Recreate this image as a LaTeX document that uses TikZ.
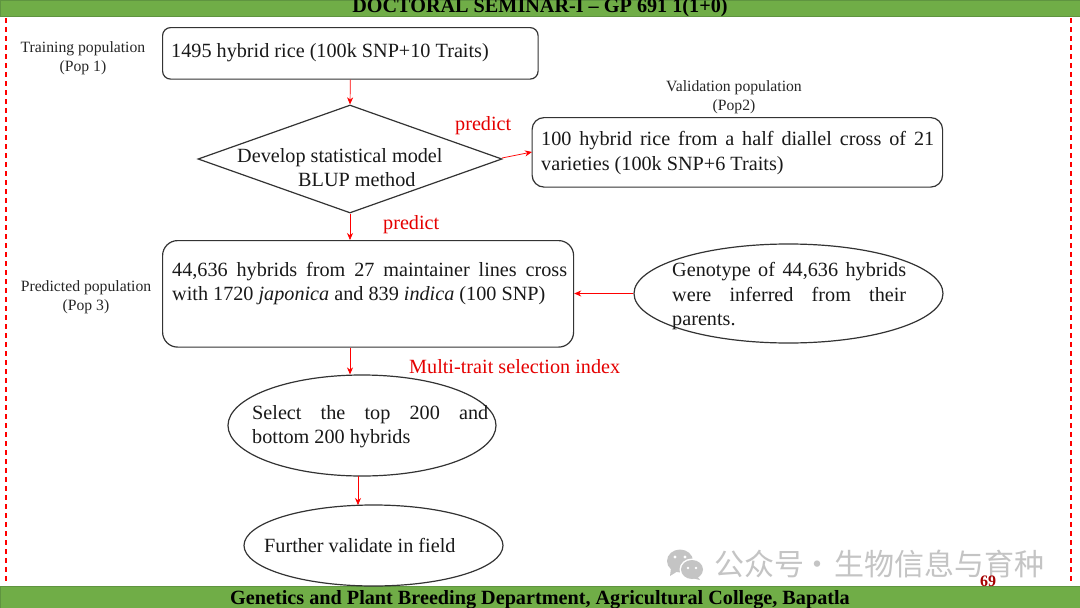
\documentclass[tikz,border=0pt]{standalone}
\usepackage{fontspec}
\setmainfont{Liberation Serif}
\newfontfamily\cjkwm{Noto Sans CJK SC}
\usetikzlibrary{shapes.geometric,arrows.meta}
\definecolor{bargreen}{HTML}{70AD47}
\definecolor{baredge}{HTML}{5F9440}
\definecolor{wmgrey}{HTML}{C4C4C4}
\definecolor{guidered}{HTML}{FF0000}
\tikzset{
 x=1pt,y=-1pt,
 rbox/.style={draw=black!80,line width=1.2pt,inner sep=0pt,anchor=north west},
 oval/.style={draw=black!80,line width=1.2pt,ellipse,inner sep=0pt},
 conn/.style={draw=red,line width=.7pt,-{Stealth[length=7pt,width=6pt]}},
 bar/.style={fill=bargreen,draw=baredge,line width=.6pt,inner sep=0pt,anchor=north west},
 dashbit/.style={fill=guidered,draw=none},
 body/.style={inner sep=0pt,anchor=base west,font=\fontsize{20.2}{24}\selectfont,text=black!90},
 side/.style={inner sep=0pt,align=center,font=\fontsize{15.7}{19}\selectfont,text=black!85},
 redlab/.style={inner sep=0pt,anchor=base west,font=\fontsize{20.2}{24}\selectfont,text=red!90!black},
 bartext/.style={inner sep=0pt,anchor=base,font=\bfseries\fontsize{20.2}{24}\selectfont,text=black},
 wmtext/.style={inner sep=0pt,anchor=base west,text=wmgrey,font=\cjkwm\fontsize{30}{32}\selectfont}
}
\newcommand{\jline}[2]{\makebox[#1][s]{#2}}
\begin{document}
\begin{tikzpicture}
\useasboundingbox (0,0) rectangle (1080,608);
\fill[white] (0,0) rectangle (1080,608);
% dashed side guides
\foreach \yy in {18,27,...,580}{
  \fill[dashbit] (5,\yy) rectangle (7,\yy+5);
  \fill[dashbit] (1070,\yy) rectangle (1072,\yy+5);
}
% bars
\node[bar,minimum width=1080pt,minimum height=16pt] (topbar) at (0,0) {};
\node[bar,minimum width=1080pt,minimum height=22pt] (botbar) at (0,586) {};
\begin{scope}
\clip (0,0) rectangle (1080,16);
\node[bartext] (toptext) at (540,12) {DOCTORAL SEMINAR-I – GP 691 1(1+0)};
\end{scope}
\node[bartext] (bottext) at (540,604.5) {Genetics and Plant Breeding Department, Agricultural College, Bapatla};
% shapes
\node[rbox,rounded corners=8pt,minimum width=375.5pt,minimum height=51.5pt] (box1) at (162,27) {};
\node[draw=black!80,line width=1.2pt,diamond,inner sep=0pt,minimum width=304pt,minimum height=108pt] (dia) at (350,159) {};
\node[rbox,rounded corners=12pt,minimum width=410.5pt,minimum height=69.5pt] (box2) at (531.5,117) {};
\node[rbox,rounded corners=15pt,minimum width=411pt,minimum height=106.5pt] (box3) at (162,240) {};
\node[oval,minimum width=309pt,minimum height=99pt] (geno) at (788.5,293.5) {};
\node[oval,minimum width=268pt,minimum height=101pt] (sel) at (362,425.5) {};
\node[oval,minimum width=259pt,minimum height=81pt] (fur) at (373.5,545.5) {};
% connector ends
\coordinate (selout) at (358,476);
\coordinate (furin) at (358,505);
\coordinate (diaout) at (502,158);
\coordinate (boxin) at (532,152);
% connectors
\draw[conn] (box1.south) -- (dia.north);
\draw[conn] (diaout) -- (boxin);
\draw[conn] (dia.south) -- (dia.south |- box3.north);
\draw[conn] (geno.west) -- (geno.west -| box3.east);
\draw[conn] (dia.south |- box3.south) -- (dia.south |- sel.north);
\draw[conn] (selout) -- (furin);
% text
\node[side] (lab1) at (83,58) {Training population\\(Pop 1)};
\node[side] (lab2) at (734,97.5) {Validation population\\(Pop2)};
\node[side] (lab3) at (86,297) {Predicted population\\(Pop 3)};
\node[body] (t1) at (171,57) {1495 hybrid rice (100k SNP+10 Traits)};
\node[body] (t2) at (237,162) {Develop statistical model};
\node[body] (t3) at (298,186) {BLUP method};
\node[body] (t4) at (541,145) {\jline{393pt}{100 hybrid rice from a half diallel cross of 21}};
\node[body] (t5) at (541,170) {varieties (100k SNP+6 Traits)};
\node[body] (t6) at (172,276) {\jline{395pt}{44,636 hybrids from 27 maintainer lines cross}};
\node[body] (t7) at (172,300) {with 1720 \textit{japonica} and 839 \textit{indica} (100 SNP)};
\node[body] (t8) at (672,276) {\jline{234pt}{Genotype of 44,636 hybrids}};
\node[body] (t9) at (672,301) {\jline{234pt}{were inferred from their}};
\node[body] (t10) at (672,325) {parents.};
\node[body] (t11) at (252,419) {\jline{236pt}{Select the top 200 and}};
\node[body] (t12) at (252,443) {bottom 200 hybrids};
\node[body] (t13) at (264,552) {Further validate in field};
\node[redlab] (p1) at (455,130) {predict};
\node[redlab] (p2) at (383,229) {predict};
\node[redlab] (p3) at (409,373) {Multi-trait selection index};
% watermark
\fill[wmgrey] (680,561) ellipse [x radius=13pt,y radius=11.5pt];
\fill[wmgrey] (671,568) -- (670,576) -- (678,571) -- cycle;
\fill[white] (692,569.5) ellipse [x radius=12.5pt,y radius=11pt];
\fill[wmgrey] (692,569.5) ellipse [x radius=11pt,y radius=9.5pt];
\fill[wmgrey] (697,576) -- (700,580) -- (692,578) -- cycle;
\fill[white] (675,557) circle (1.6pt) (685,557) circle (1.6pt) (688,568) circle (1.3pt) (696,568) circle (1.3pt);
\node[wmtext] (wma) at (714,575) {公众号};
\node[wmtext] (wmb) at (802,575) {·};
\node[wmtext] (wmc) at (834,575) {生物信息与育种};
\node[inner sep=0pt,anchor=base,text=red!65!black,font=\bfseries\fontsize{16}{18}\selectfont] (pg) at (988,586) {69};
\end{tikzpicture}
\end{document}
